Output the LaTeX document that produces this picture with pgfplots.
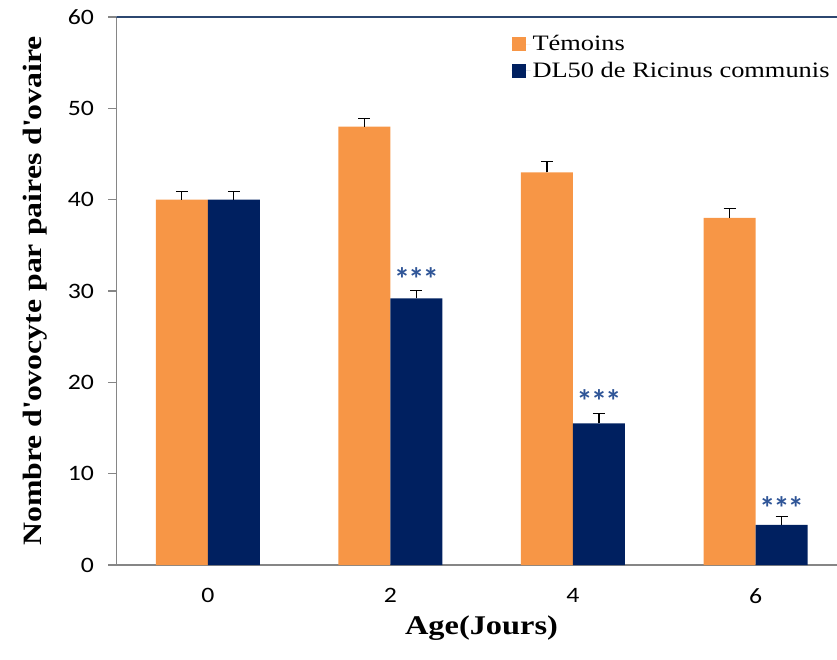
\documentclass[border=0pt]{standalone}
\usepackage{fontspec}
\setmainfont{Liberation Serif}[FakeStretch=1.2]
\newfontfamily\tickfont{Carlito}[FakeStretch=1.17]
\newfontfamily\starfont{Carlito}[LetterSpace=-5]
\usepackage{pgfplots}
\pgfplotsset{compat=1.18}
\definecolor{cOrange}{HTML}{F79646}
\definecolor{cNavy}{HTML}{002060}
\definecolor{cStar}{HTML}{2F5597}
\definecolor{cTop}{HTML}{2C4770}
\definecolor{cAxis}{HTML}{868686}
\begin{document}
\begin{tikzpicture}
\begin{axis}[
  scale only axis,
  width=720.5pt, height=548pt,
  xmin=-0.5, xmax=3.446,
  ymin=0, ymax=60,
  ytick={0,10,...,60},
  xtick={0,1,2,3},
  xticklabels={0,2,4,6},
  /pgf/number format/assume math mode=true,
  x tick style={draw=none},
  extra x ticks={-0.5,0.5,1.5,2.5},
  extra x tick labels={},
  extra x tick style={major tick length=10pt, tick align=outside, tick style={draw=cAxis, line width=1.3pt}},
  axis lines*=left,
  axis line style={draw=cAxis, line width=1.3pt},
  y tick style={draw=cAxis, line width=1.3pt},
  tick align=outside,
  major tick length=8pt,
  yticklabel style={font=\tickfont\fontsize{22}{22}\selectfont, xshift=-11pt},
  xticklabel style={font=\tickfont\fontsize{22}{22}\selectfont, yshift=-12pt},
  ylabel={\bfseries Nombre d\textquotesingle ovocyte par paires d\textquotesingle ovaire},
  xlabel={\bfseries Age(Jours)},
  y label style={font=\fontsize{26.5}{26.5}\selectfont, at={(axis description cs:-0.113,0.5)}, anchor=center},
  x label style={font=\fontsize{27}{27}\selectfont, at={(axis description cs:0.5066,-0.115)}, anchor=center},
  ybar=0pt,
  bar width=52pt,
  legend style={draw=none, fill=none, at={(axis description cs:0.548,0.97)}, anchor=north west,
    font=\fontsize{22}{22}\selectfont, row sep=6pt, inner sep=0pt},
  legend cell align=left,
  legend image code/.code={\fill[#1] (0pt,-7pt) rectangle (14pt,7pt); \path (0pt,0pt) -- (19pt,0pt);},
  error bars/y dir=plus,
  error bars/y explicit,
  error bars/error bar style={line width=1.3pt, black},
  error bars/error mark options={rotate=90, mark size=6pt, line width=1.3pt, black},
]
\addplot[fill=cOrange, draw=none, bar shift=-26pt] coordinates {
  (0,40) +- (0,0.9)
  (1,48) +- (0,0.9)
  (2,43) +- (0,1.2)
  (3,38) +- (0,1.0)
};
\addlegendentry{Témoins}
\addplot[fill=cNavy, draw=none, bar shift=26pt] coordinates {
  (0,40) +- (0,0.9)
  (1,29.2) +- (0,0.85)
  (2,15.5) +- (0,1.1)
  (3,4.4) +- (0,0.9)
};
\addlegendentry{DL50 de Ricinus communis}
\draw[cTop, line width=2pt] (rel axis cs:0,1) -- (rel axis cs:1,1);
\node[font=\starfont\bfseries\fontsize{32}{32}\selectfont, text=cStar, xshift=26pt, inner sep=0pt] at (axis cs:1,31.3) {***};
\node[font=\starfont\bfseries\fontsize{32}{32}\selectfont, text=cStar, xshift=26pt, inner sep=0pt] at (axis cs:2,17.9) {***};
\node[font=\starfont\bfseries\fontsize{32}{32}\selectfont, text=cStar, xshift=26pt, inner sep=0pt] at (axis cs:3,6.25) {***};
\end{axis}
\pgfresetboundingbox
\path (current axis.south west) ++(-116.5pt,-94pt) rectangle ++(837pt,659pt);
\end{tikzpicture}
\end{document}
